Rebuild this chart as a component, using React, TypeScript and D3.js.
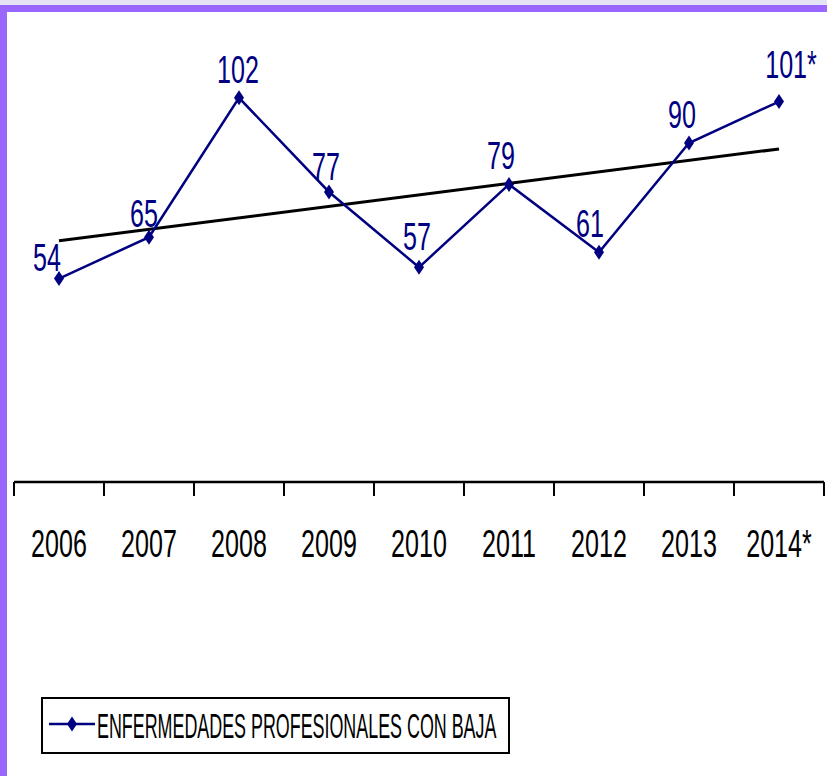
import React from "react";
import * as d3 from "d3";

const categories = ["2006", "2007", "2008", "2009", "2010", "2011", "2012", "2013", "2014*"];
const values = [54, 65, 102, 77, 57, 79, 61, 90, 101];
const valueLabels = ["54", "65", "102", "77", "57", "79", "61", "90", "101*"];
const seriesName = "ENFERMEDADES PROFESIONALES CON BAJA";

// layout-only nudges for data labels [dx, dy]
const labelNudge: [number, number][] = [
  [-12, -8], [-5, -10], [-1, -15], [-3, -12], [-2, -17], [-8, -15], [-9, -15], [-7, -15], [12, -24],
];

const W = 827;
const H = 776;
const NAVY = "#000080";
const PURPLE = "#9966FF";
const FONT = "'Liberation Sans', Arial, sans-serif";
const SX = 0.66;

export default function App() {
  const x = d3.scaleBand<string>().domain(categories).range([14, 824]).padding(0);
  const y = d3.scaleLinear().domain([0, 120]).range([482, 30]);
  const cx = (c: string) => (x(c) as number) + x.bandwidth() / 2;

  const pts = categories.map((c, i) => [cx(c), y(values[i])] as [number, number]);
  const line = d3.line<[number, number]>().x((d) => d[0]).y((d) => d[1]);

  // least squares trendline
  const n = values.length;
  const idx = values.map((_, i) => i);
  const mx = d3.mean(idx) as number;
  const my = d3.mean(values) as number;
  const slope =
    d3.sum(idx.map((i) => (i - mx) * (values[i] - my))) / d3.sum(idx.map((i) => (i - mx) ** 2));
  const icpt = my - slope * mx;
  const trend: [number, number][] = [
    [cx(categories[0]), y(icpt)],
    [cx(categories[n - 1]), y(icpt + slope * (n - 1))],
  ];

  const ticks = categories.map((c) => x(c) as number).concat([824]);
  const diamond = (px: number, py: number) =>
    `M${px},${py - 7.5} L${px + 5},${py} L${px},${py + 7.5} L${px - 5},${py} Z`;

  return (
    <svg
      width={W}
      height={H}
      style={{ position: "absolute", left: 0, top: 0, background: "#fff" }}
      fontFamily={FONT}
    >
      <rect x={0} y={0} width={W} height={H} fill="#fff" />
      <rect x={0} y={0} width={W} height={5} fill="#E4E4F4" />
      <rect x={0} y={5} width={W} height={7} fill={PURPLE} />
      <rect x={0} y={5} width={7} height={H - 5} fill={PURPLE} />

      {/* axis */}
      <line x1={14} x2={824} y1={482} y2={482} stroke="#000" strokeWidth={2.5} />
      {ticks.map((t, i) => (
        <line key={i} x1={t} x2={t} y1={482} y2={496} stroke="#000" strokeWidth={2} />
      ))}
      {categories.map((c) => (
        <text
          key={c}
          transform={`translate(${cx(c)},557) scale(${SX},1)`}
          textAnchor="middle"
          fontSize={38}
          fill="#000"
        >
          {c}
        </text>
      ))}

      {/* trend */}
      <path d={line(trend) as string} stroke="#000" strokeWidth={3} fill="none" />

      {/* series */}
      <path d={line(pts) as string} stroke={NAVY} strokeWidth={2.5} fill="none" />
      {pts.map((p, i) => (
        <path key={i} d={diamond(p[0], p[1])} fill={NAVY} />
      ))}
      {pts.map((p, i) => (
        <text
          key={"l" + i}
          transform={`translate(${p[0] + labelNudge[i][0]},${p[1] + labelNudge[i][1]}) scale(${SX},1)`}
          textAnchor="middle"
          fontSize={38}
          fill={NAVY}
        >
          {valueLabels[i]}
        </text>
      ))}

      {/* legend */}
      <rect x={42} y={698} width={467} height={55} fill="#fff" stroke="#000" strokeWidth={2} />
      <line x1={49} x2={95} y1={724} y2={724} stroke={NAVY} strokeWidth={2.5} />
      <path d={diamond(72, 724)} fill={NAVY} />
      <text
        transform="translate(97,738) scale(0.497,1)"
        fontSize={36}
        fill="#000"
      >
        {seriesName}
      </text>
    </svg>
  );
}
